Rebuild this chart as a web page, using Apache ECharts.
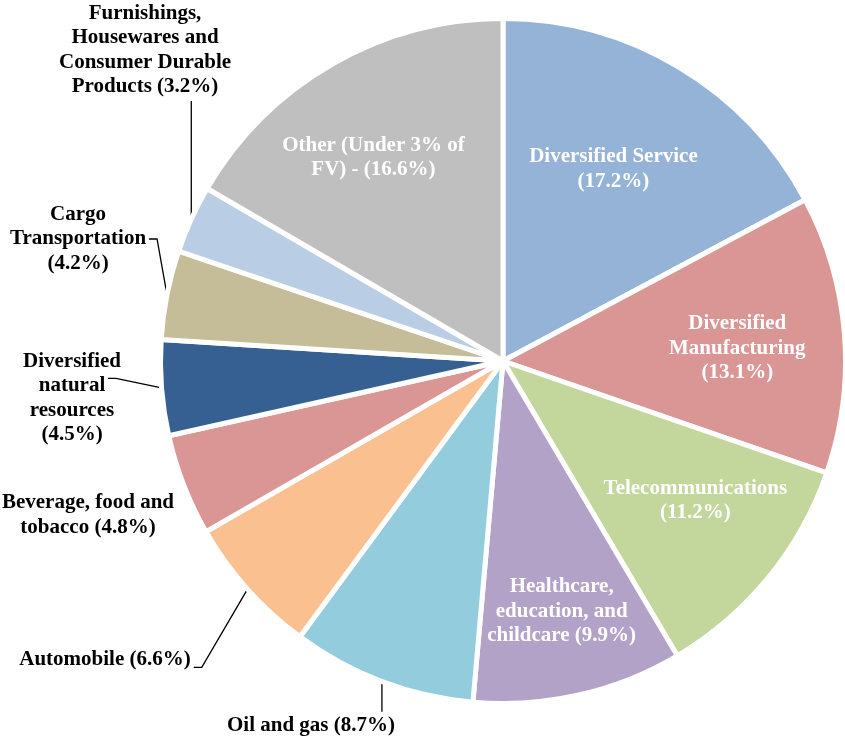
<!DOCTYPE html>
<html>
<head>
<meta charset="utf-8">
<script src="https://cdn.jsdelivr.net/npm/echarts@6/dist/echarts.min.js"></script>
<style>
  html, body { margin: 0; padding: 0; background: #fff; }
  #chart { width: 845px; height: 738px; }
</style>
</head>
<body>
<div id="chart"></div>
<script>
// ---- data ----
var categories = [
  'Diversified Service',
  'Diversified Manufacturing',
  'Telecommunications',
  'Healthcare, education, and childcare',
  'Oil and gas',
  'Automobile',
  'Beverage, food and tobacco',
  'Diversified natural resources',
  'Cargo Transportation',
  'Furnishings, Housewares and Consumer Durable Products',
  'Other (Under 3% of FV)'
];
var shares = [17.2, 13.1, 11.2, 9.9, 8.7, 6.6, 4.8, 4.5, 4.2, 3.2, 16.6];
var labelTemplates = [
  'Diversified Service\n({v}%)',
  'Diversified\nManufacturing\n({v}%)',
  'Telecommunications\n({v}%)',
  'Healthcare,\neducation, and\nchildcare ({v}%)',
  'Oil and gas ({v}%)',
  'Automobile ({v}%)',
  'Beverage, food and\ntobacco ({v}%)',
  'Diversified\nnatural\nresources\n({v}%)',
  'Cargo\nTransportation\n({v}%)',
  'Furnishings,\nHousewares and\nConsumer Durable\nProducts ({v}%)',
  'Other (Under 3% of\nFV) - ({v}%)'
];
var colors = ['#95B3D7', '#D99694', '#C3D69B', '#B3A2C7', '#93CDDD', '#FAC090',
              '#D99694', '#376092', '#C4BD97', '#B9CDE5', '#BFBFBF'];

// ---- label layout (style, not data) ----
var outsideLayout = {
  4: { x: 311, y: 726, side: 'top' },
  5: { x: 105, y: 660, side: 'right', fy: 0.8, inset: 0 },
  6: { x: 88, y: 515, side: 'none' },
  7: { x: 72, y: 398, side: 'right', fy: 0.3, inset: 16 },
  8: { x: 78, y: 239, side: 'right', fy: 0.5, inset: 0 },
  9: { x: 145, y: 50, side: 'bottom' }
};
var insideNudge = {
  0: [-12, 12],
  1: [-3, 6],
  2: [8, -11],
  3: [6, 18],
  10: [-11, 3]
};

var FONT = '"Liberation Serif", "Times New Roman", serif';
var CENTER = [503, 361];

function labelText(i) {
  return labelTemplates[i].replace('{v}', shares[i].toFixed(1));
}

var mainData = categories.map(function (name, i) {
  var out = !!outsideLayout[i];
  return {
    name: name,
    value: shares[i],
    itemStyle: { color: colors[i] },
    label: { show: out },
    labelLine: { show: out && outsideLayout[i].side !== 'none' }
  };
});
var innerData = categories.map(function (name, i) {
  return {
    name: name,
    value: shares[i],
    label: { show: !outsideLayout[i] }
  };
});

var chart = echarts.init(document.getElementById('chart'), null, { renderer: 'canvas' });
chart.setOption({
  animation: false,
  backgroundColor: '#fff',
  series: [
    {
      type: 'pie',
      center: CENTER,
      radius: [0, 342.5],
      startAngle: 90,
      clockwise: true,
      avoidLabelOverlap: false,
      silent: true,
      itemStyle: { borderColor: '#fff', borderWidth: 5 },
      label: {
        position: 'outside',
        color: '#000',
        fontFamily: FONT,
        fontWeight: 'bold',
        fontSize: 21,
        lineHeight: 24.5,
        align: 'center',
        formatter: function (p) { return labelText(p.dataIndex); }
      },
      labelLine: { lineStyle: { color: '#000', width: 1.3 }, length: 10, length2: 10 },
      labelLayout: function (p) {
        var cfg = outsideLayout[p.dataIndex];
        if (!cfg) return {};
        var w = p.labelRect.width, h = p.labelRect.height;
        var left = cfg.x - w / 2, top = cfg.y - h / 2;
        var right = left + w, bottom = top + h;
        var res = { x: cfg.x, y: cfg.y, align: 'center', verticalAlign: 'middle' };
        var a = p.labelLinePoints && p.labelLinePoints[0];
        if (a && cfg.side !== 'none') {
          var pts;
          if (cfg.side === 'bottom') {
            pts = [[a[0], a[1]], [a[0], (a[1] + bottom) / 2], [a[0], bottom + 2]];
          } else if (cfg.side === 'top') {
            pts = [[a[0], a[1]], [a[0], (a[1] + top) / 2], [a[0], top - 2]];
          } else {
            var ey = top + h * cfg.fy;
            var ex = right + 3 - cfg.inset;
            pts = [[a[0], a[1]], [ex + 8, ey], [ex, ey]];
          }
          res.labelLinePoints = pts;
        }
        return res;
      },
      data: mainData
    },
    {
      type: 'pie',
      center: CENTER,
      radius: [0, 470],
      startAngle: 90,
      clockwise: true,
      avoidLabelOverlap: false,
      silent: true,
      itemStyle: { color: 'rgba(0,0,0,0)', borderWidth: 0 },
      label: {
        position: 'inside',
        color: '#fff',
        fontFamily: FONT,
        fontWeight: 'bold',
        fontSize: 21,
        lineHeight: 24.5,
        align: 'center',
        formatter: function (p) { return labelText(p.dataIndex); }
      },
      labelLine: { show: false },
      labelLayout: function (p) {
        var n = insideNudge[p.dataIndex];
        return n ? { dx: n[0], dy: n[1] } : {};
      },
      data: innerData
    }
  ]
});
</script>
</body>
</html>
